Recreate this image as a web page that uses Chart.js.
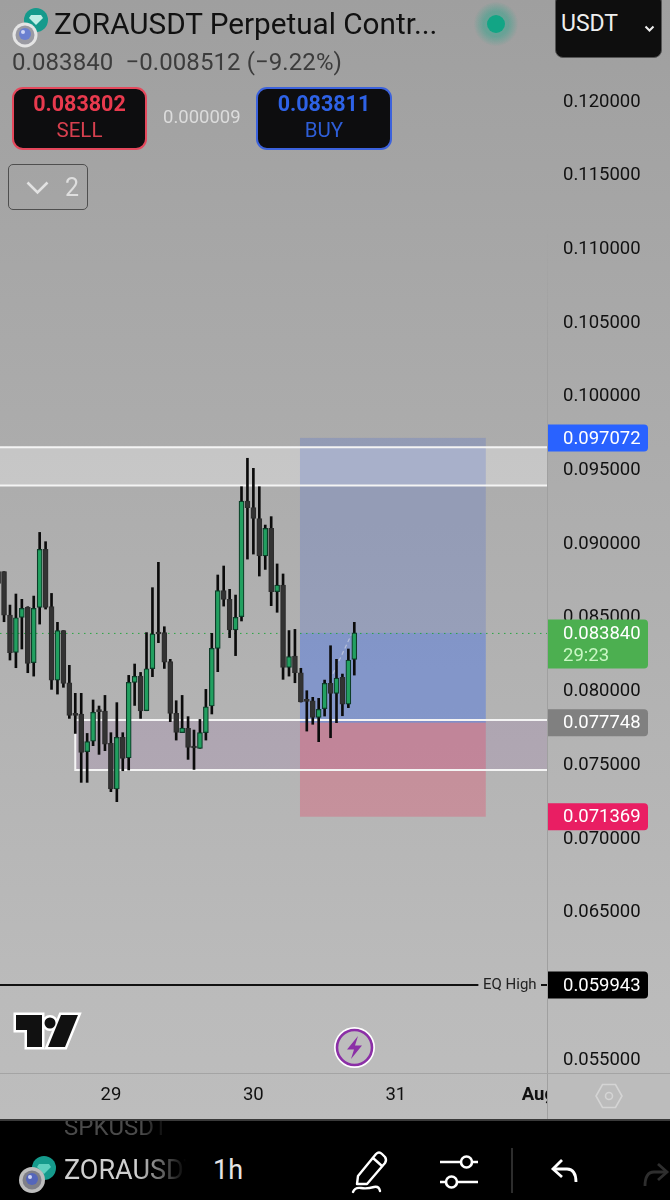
<!DOCTYPE html>
<html><head><meta charset="utf-8">
<script src="https://cdn.jsdelivr.net/npm/chart.js@4"></script>
<style>
html,body{margin:0;padding:0;width:670px;height:1200px;overflow:hidden;font-family:Roboto,sans-serif}
body{background:linear-gradient(180deg,#9f9f9f 0,#a6a6a6 230px,#afafaf 560px,#bbbbbb 1000px,#bdbdbd 1120px);position:relative}
#wrap{position:absolute;left:0;top:0;width:670px;height:1120px}
.t{position:absolute;white-space:nowrap;line-height:1}
.btn{position:absolute;background:#0d0d0f;border-radius:11px;box-sizing:border-box;border:2px solid}
svg{position:absolute;overflow:visible}
</style></head><body>
<div id="wrap"><canvas id="c" width="670" height="1120"></canvas></div>

<div style="position:absolute;left:547px;top:230px;width:1px;height:890px;background:linear-gradient(180deg,rgba(150,150,150,0),#a0a0a0 120px)"></div>
<div style="position:absolute;left:548px;top:1074px;width:122px;height:46px;background:#bcbcbc"></div>
<div style="position:absolute;left:0;top:1073px;width:670px;height:1px;background:#a4a4a4"></div>

<svg style="left:0;top:0" width="60" height="50">
<circle cx="36" cy="20" r="12" fill="#159a8c"/><path d="M31 15h10l2 3-7 7-7-7z" fill="#bfeee6"/>
<circle cx="25" cy="35" r="12.5" fill="#e4e4e4"/><circle cx="25" cy="35" r="9.5" fill="#9a9aa2"/><circle cx="25" cy="34" r="6" fill="#6a7fd0"/><circle cx="23" cy="32" r="2" fill="#cfd6f5"/>
</svg>
<div class="t" id="title" style="left:54px;top:9px;font-size:29.7px;color:#111">ZORAUSDT Perpetual Contr...</div>
<div style="position:absolute;left:474px;top:2px;width:44px;height:44px;border-radius:50%;background:radial-gradient(circle,rgba(20,165,135,.4) 40%,rgba(20,165,135,0) 72%)"></div>
<div style="position:absolute;left:487px;top:15px;width:18px;height:18px;border-radius:50%;background:#12a585"></div>
<div style="position:absolute;left:555px;top:-6px;width:107px;height:64px;background:#0e0e0e;border-radius:8px;border:1px solid #555;box-sizing:border-box"></div>
<div class="t" style="left:561px;top:12px;font-size:23px;color:#eee">USDT</div>
<svg style="left:644px;top:25px" width="12" height="8"><path d="M1.5 1.5l4 4 4-4" fill="none" stroke="#eee" stroke-width="2"/></svg>
<div class="t" style="left:12px;top:50px;font-size:24px;color:#3c3c3c;letter-spacing:.08px">0.083840&nbsp; −0.008512 (−9.22%)</div>

<div class="btn" style="left:12px;top:87px;width:135px;height:63px;border-color:#e4485c"></div>
<div class="t" style="left:12px;width:135px;text-align:center;top:93px;font-size:21.5px;font-weight:700;color:#e83a4e">0.083802</div>
<div class="t" style="left:12px;width:135px;text-align:center;top:120px;font-size:20.5px;color:#d8404f">SELL</div>
<div class="t" style="left:163px;top:108px;font-size:18.5px;color:#dcdcdc">0.000009</div>
<div class="btn" style="left:256px;top:87px;width:136px;height:63px;border-color:#3c62dc"></div>
<div class="t" style="left:256px;width:136px;text-align:center;top:93px;font-size:21.5px;font-weight:700;color:#2e62e6">0.083811</div>
<div class="t" style="left:256px;width:136px;text-align:center;top:120px;font-size:20.5px;color:#2e5ed8">BUY</div>

<div style="position:absolute;left:8px;top:164px;width:80px;height:46px;border:1.5px solid #4f4f4f;border-radius:5px;box-sizing:border-box"></div>
<svg style="left:26px;top:181px" width="24" height="14"><path d="M1.5 1.5l10 10 10-10" fill="none" stroke="#e2e2e2" stroke-width="2.6"/></svg>
<div class="t" style="left:65px;top:175px;font-size:25px;color:#dedede">2</div>

<svg style="left:15px;top:1014px" width="64" height="34" viewBox="0 0 64 34">
<path d="M1 1H27V33H12V16H1ZM46 1H63L50 33H33Z" fill="#111" stroke="#fff" stroke-width="5" stroke-linejoin="miter"/>
<circle cx="35" cy="9" r="5.5" fill="#111" stroke="#fff" stroke-width="5"/>
<path d="M1 1H27V33H12V16H1ZM46 1H63L50 33H33Z" fill="#111"/>
<circle cx="35" cy="9" r="5.5" fill="#111"/>
</svg>
<svg style="left:334px;top:1027px" width="42" height="42">
<circle cx="20.5" cy="20.5" r="20.5" fill="#fff"/><circle cx="20.5" cy="20.5" r="17.5" fill="#bdbdbd" stroke="#8b2fa6" stroke-width="2.6"/>
<path d="M24 9L13 22.5H20L17 32L28 18.5H21Z" fill="#8b2fa6"/>
</svg>
<svg style="left:595px;top:1083px" width="28" height="26" viewBox="0 0 28 26">
<path d="M7.5 1.5H20.5L27 13L20.5 24.5H7.5L1 13Z" fill="none" stroke="#d4d4d4" stroke-width="1.6"/><circle cx="14" cy="13" r="3.5" fill="none" stroke="#d4d4d4" stroke-width="1.6"/>
</svg>

<div style="position:absolute;left:0;top:1119px;width:670px;height:81px;background:#000;overflow:hidden;border-top:2px solid #3a3a3a;box-sizing:border-box">
  <div class="t" style="left:64px;top:-6px;font-size:24px;color:#4a4a4a;-webkit-mask-image:linear-gradient(90deg,#000 75%,transparent)">SPKUSDT</div>
</div>
<svg style="left:15px;top:1150px" width="45" height="45">
<circle cx="29" cy="18" r="12" fill="#159a8c"/><path d="M24 14h10l2 3-7 7-7-7z" fill="#5fd0bf"/>
<circle cx="17" cy="30" r="13" fill="#bdbdbd"/><circle cx="17" cy="30" r="9.5" fill="#7f7f88"/><circle cx="17" cy="29" r="6" fill="#5566bb"/><circle cx="15" cy="27" r="2" fill="#cfd6f5"/>
</svg>
<div class="t" style="left:64px;top:1157px;font-size:27px;color:#cfcfcf;width:122px;overflow:hidden;-webkit-mask-image:linear-gradient(90deg,#000 60%,transparent)">ZORAUSDT</div>
<div class="t" style="left:213px;top:1157px;font-size:27px;color:#e4e4e4">1h</div>
<svg style="left:352px;top:1150px" width="38" height="44" fill="none" stroke="#fff" stroke-width="2.4" stroke-linejoin="round" stroke-linecap="round">
<path d="M6 26L24 4Q27 1 30 4L33 7Q35 10 33 13L15 34L5 34Z"/><path d="M21 8L30 16"/><path d="M1 42Q3 37 9 38T22 37Q27 36 28 41"/>
</svg>
<svg style="left:440px;top:1154px" width="38" height="36" fill="none" stroke="#fff" stroke-width="2.6">
<path d="M0 8H21M32 8H38M0 28H6M17 28H38"/><circle cx="26.5" cy="8" r="5.5"/><circle cx="11.5" cy="28" r="5.5"/>
</svg>
<div style="position:absolute;left:511px;top:1148px;width:2px;height:45px;background:#2d2d2d"></div>
<svg style="left:551px;top:1158px" width="28" height="28" fill="none" stroke="#fff" stroke-width="2.8"><path d="M11 2L2 11L11 19"/><path d="M2 11H16Q25 11 25 24"/></svg>
<svg style="left:642px;top:1162px" width="28" height="28" fill="none" stroke="#2e2e2e" stroke-width="2.8"><path d="M16 2L25 10L16 18"/><path d="M25 10H12Q3 10 3 24"/></svg>

<script>
// OHLC values
const firstHour = -19;
const opens = [0.08800,0.08800,0.08505,0.08252,0.08490,0.08557,0.08182,0.08557,0.08951,0.08562,0.08064,0.08400,0.08046,0.07834,0.07834,0.07578,0.07650,0.07859,0.07854,0.07635,0.07325,0.07675,0.07537,0.08049,0.08091,0.07856,0.08141,0.08386,0.08386,0.08189,0.07838,0.07707,0.07736,0.07612,0.07601,0.07707,0.07888,0.08279,0.08671,0.08612,0.08404,0.08494,0.09279,0.09234,0.09159,0.08906,0.09094,0.08664,0.08709,0.08150,0.08227,0.08114,0.07929,0.07924,0.07811,0.07870,0.08042,0.07974,0.08082,0.07901,0.08205];
const highs = [0.08852,0.08800,0.08573,0.08648,0.08612,0.08562,0.08634,0.09066,0.09003,0.08652,0.08456,0.08400,0.08164,0.07974,0.07974,0.07702,0.07929,0.07888,0.07960,0.07707,0.07911,0.07707,0.08096,0.08173,0.08116,0.08386,0.08691,0.08863,0.08426,0.08205,0.07924,0.07960,0.07816,0.07725,0.07797,0.08001,0.08381,0.08777,0.08838,0.08680,0.08641,0.09376,0.09569,0.09501,0.09376,0.09116,0.09173,0.08852,0.08784,0.08400,0.08408,0.08144,0.07992,0.07947,0.07940,0.08064,0.08297,0.08205,0.08105,0.08275,0.08456];
const lows = [0.08675,0.08460,0.08200,0.08148,0.08275,0.08114,0.08091,0.08444,0.08546,0.08001,0.07969,0.08015,0.07804,0.07702,0.07370,0.07370,0.07619,0.07560,0.07585,0.07307,0.07239,0.07449,0.07454,0.07892,0.07804,0.07856,0.08087,0.08318,0.08143,0.07782,0.07657,0.07707,0.07526,0.07458,0.07601,0.07657,0.07834,0.08121,0.08566,0.08352,0.08230,0.08465,0.08885,0.08919,0.08770,0.08815,0.08569,0.08524,0.08069,0.08091,0.08046,0.07915,0.07718,0.07764,0.07646,0.07820,0.07673,0.07775,0.07822,0.07877,0.08098];
const closes = [0.08720,0.08505,0.08250,0.08487,0.08551,0.08177,0.08551,0.08951,0.08557,0.08064,0.08400,0.08042,0.07825,0.07825,0.07573,0.07646,0.07845,0.07850,0.07630,0.07325,0.07675,0.07533,0.08049,0.08089,0.07854,0.08141,0.08377,0.08377,0.08186,0.07838,0.07709,0.07739,0.07607,0.07603,0.07707,0.07883,0.08279,0.08671,0.08612,0.08404,0.08490,0.09279,0.09234,0.09161,0.08906,0.09094,0.08664,0.08709,0.08150,0.08223,0.08114,0.07915,0.07920,0.07811,0.07865,0.08042,0.07974,0.08078,0.07901,0.08200,0.08384];

const priceTicks = [0.12,0.115,0.11,0.105,0.1,0.095,0.09,0.085,0.08,0.075,0.07,0.065,0.06,0.055];
const timeTicks = [0,24,48,72];
const timeLabels = ['29','30','31','Aug'];

const currentPrice = 0.08384;
const targetPrice = 0.097072;
const entryPrice = 0.077748;
const stopPrice = 0.071369;
const eqHighPrice = 0.059943;
const countdown = '29:23';

const upperZone = [0.09643,0.09385];
const lowerZone = [0.07793,0.07454];
const lowerZoneStart = -6;
const positionHours = [31.85,63.15];
const eqHighEndHour = 61.9;
const pathHours = [36.9,40.6];
const pathPrices = [0.08064,0.08381];

const hours = closes.map((_, i) => firstHour + i);
const isUp = i => closes[i] >= opens[i];
const wicks = hours.map((h, i) => ({x:h, y:[lows[i], highs[i]]}));
const bodies = hours.map((h, i) => ({x:h, y:[opens[i], closes[i]]}));

const overlays = {
  id:'overlays',
  beforeDatasetsDraw(chart){
    const {ctx, scales:{x,y}, chartArea:a} = chart;
    const Y = v => y.getPixelForValue(v), X = v => x.getPixelForValue(v);
    ctx.save();
    ctx.beginPath(); ctx.rect(a.left, 0, a.right - a.left, a.bottom); ctx.clip();
    // upper resistance band
    ctx.fillStyle='rgba(255,255,255,.32)';
    ctx.fillRect(a.left, Y(upperZone[0]), a.right, Y(upperZone[1]) - Y(upperZone[0]));
    // lower support band
    ctx.fillStyle='rgba(150,95,165,.16)';
    ctx.fillRect(X(lowerZoneStart), Y(lowerZone[0]), a.right, Y(lowerZone[1]) - Y(lowerZone[0]));
    // long position box
    const px0 = X(positionHours[0]), pw = X(positionHours[1]) - px0;
    ctx.fillStyle='rgba(60,95,215,.22)';
    ctx.fillRect(px0, Y(targetPrice), pw, Y(entryPrice) - Y(targetPrice));
    ctx.fillStyle='rgba(65,120,250,.24)';
    ctx.fillRect(px0, Y(currentPrice), pw, Y(entryPrice) - Y(currentPrice));
    ctx.fillStyle='rgba(240,50,90,.28)';
    ctx.fillRect(px0, Y(entryPrice), pw, Y(stopPrice) - Y(entryPrice));
    // band outlines
    ctx.strokeStyle='#f4f4f4'; ctx.lineWidth=2;
    ctx.beginPath();
    ctx.moveTo(a.left, Y(upperZone[0])); ctx.lineTo(a.right, Y(upperZone[0]));
    ctx.moveTo(a.left, Y(upperZone[1])); ctx.lineTo(a.right, Y(upperZone[1]));
    ctx.moveTo(a.right, Y(lowerZone[0])); ctx.lineTo(X(lowerZoneStart), Y(lowerZone[0]));
    ctx.lineTo(X(lowerZoneStart), Y(lowerZone[1])); ctx.lineTo(a.right, Y(lowerZone[1]));
    ctx.stroke();
    // current price dotted line
    ctx.strokeStyle='rgba(35,165,60,.95)'; ctx.lineWidth=1; ctx.setLineDash([1.5,4.5]);
    ctx.beginPath(); ctx.moveTo(a.left, Y(currentPrice)+.5); ctx.lineTo(a.right, Y(currentPrice)+.5); ctx.stroke();
    // path arrow
    ctx.strokeStyle='rgba(205,210,225,.7)'; ctx.lineWidth=1.2; ctx.setLineDash([4,3]);
    ctx.beginPath(); ctx.moveTo(X(pathHours[0]), Y(pathPrices[0])); ctx.lineTo(X(pathHours[1]), Y(pathPrices[1])); ctx.stroke();
    ctx.setLineDash([]);
    // EQ High line and label
    const eqY = Y(eqHighPrice);
    ctx.strokeStyle='#111'; ctx.lineWidth=2;
    ctx.beginPath(); ctx.moveTo(a.left, eqY); ctx.lineTo(X(eqHighEndHour), eqY); ctx.moveTo(541, eqY); ctx.lineTo(a.right, eqY); ctx.stroke();
    ctx.fillStyle='#222'; ctx.font='15px Roboto'; ctx.textAlign='left'; ctx.textBaseline='middle';
    ctx.fillText('EQ High', 483, eqY);
    ctx.restore();
  },
  afterDraw(chart){
    const {ctx, scales:{y}} = chart;
    const tag = (v, bg, h, offset) => {
      const cy = y.getPixelForValue(v) + offset, top = cy - h/2;
      ctx.fillStyle = bg;
      ctx.beginPath(); ctx.roundRect(548, top, 100, h, [0,4,4,0]); ctx.fill();
      return top;
    };
    const label = (txt, cy, col) => {
      ctx.fillStyle = col; ctx.font='18.5px Roboto'; ctx.textAlign='left'; ctx.textBaseline='middle';
      ctx.fillText(txt, 563, cy);
    };
    let c = y.getPixelForValue(targetPrice);
    tag(targetPrice,'#2962ff',27,0); label(targetPrice.toFixed(6), c+1, '#fff');
    let t = tag(currentPrice,'#4caf50',49,11);
    label(currentPrice.toFixed(6), t+15, '#fff'); label(countdown, t+37, '#c9f7c4');
    c = y.getPixelForValue(entryPrice);
    tag(entryPrice,'#808080',27,0); label(entryPrice.toFixed(6), c+1, '#fff');
    c = y.getPixelForValue(stopPrice);
    tag(stopPrice,'#e91e63',27,0); label(stopPrice.toFixed(6), c+1, '#fff');
    c = y.getPixelForValue(eqHighPrice);
    tag(eqHighPrice,'#000',27,0); label(eqHighPrice.toFixed(6), c+1, '#fff');
  }
};

new Chart(document.getElementById('c'), {
  type:'bar',
  data:{datasets:[
    {label:'wick', data:wicks, barThickness:2, grouped:false, order:2,
     backgroundColor:'#0b0b0b', borderSkipped:false, borderWidth:0},
    {label:'body', data:bodies, barThickness:5, grouped:false, order:1, borderWidth:1.2, borderSkipped:false, minBarLength:2,
     backgroundColor:c => isUp(c.dataIndex) ? '#22a060' : '#333333',
     borderColor:c => isUp(c.dataIndex) ? '#0c3d28' : '#2e2e2e'}
  ]},
  plugins:[overlays],
  options:{
    responsive:false, animation:false, maintainAspectRatio:false,
    layout:{padding:0},
    plugins:{legend:{display:false}, tooltip:{enabled:false}},
    scales:{
      x:{type:'linear', offset:false, min:-18.68, max:73.46, grid:{display:false, drawTicks:false}, border:{display:false},
        afterBuildTicks(s){ s.ticks = timeTicks.map(v => ({value:v})); },
        afterFit(s){ s.height = 47; s.paddingLeft = 0; s.paddingRight = 0; },
        ticks:{autoSkip:false, maxRotation:0, padding:11, color:'#111',
          font:c => ({family:'Roboto', size:18.5, weight:c.index === 3 ? '700' : '400'}),
          callback:v => timeLabels[timeTicks.indexOf(v)]}},
      y:{type:'linear', position:'right', min:0.05398, max:0.126785, grid:{display:false, drawTicks:false}, border:{display:false},
        afterBuildTicks(s){ s.ticks = priceTicks.map(v => ({value:v})); },
        afterFit(s){ s.width = 123; s.paddingTop = 0; s.paddingBottom = 0; },
        ticks:{autoSkip:false, padding:16, labelOffset:2, color:'#111', font:{family:'Roboto', size:18.5},
          callback:v => v.toFixed(6)}}
    }
  }
});
</script>
</body></html>
